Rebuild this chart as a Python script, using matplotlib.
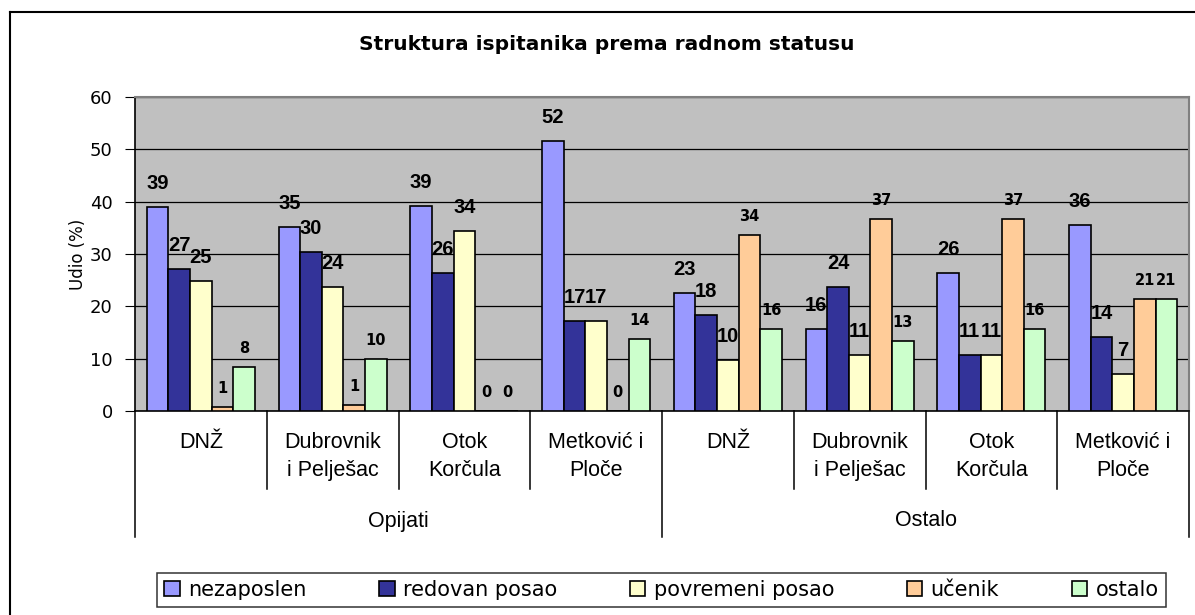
import matplotlib.pyplot as plt
import matplotlib.transforms as mtransforms
from matplotlib.lines import Line2D
import numpy as np

plt.rcParams['font.family'] = ['DejaVu Sans']

categories = ["DNŽ", "Dubrovnik\ni Pelješac", "Otok\nKorčula", "Metković i\nPloče"] * 2
groups = ["Opijati", "Ostalo"]
series = ["nezaposlen", "redovan posao", "povremeni posao", "učenik", "ostalo"]
colors = ["#9999FF", "#333399", "#FFFFCC", "#FFCC99", "#CCFFCC"]

nezaposlen = [38.9, 35.1, 39.2, 51.6, 22.6, 15.7, 26.4, 35.6]
redovan = [27.1, 30.4, 26.3, 17.2, 18.3, 23.7, 10.7, 14.2]
povremeni = [24.8, 23.6, 34.3, 17.2, 9.8, 10.7, 10.7, 7.1]
ucenik = [0.8, 1.1, 0, 0, 33.6, 36.7, 36.7, 21.4]
ostalo = [8.4, 9.9, 0, 13.7, 15.7, 13.4, 15.7, 21.4]
values = [nezaposlen, redovan, povremeni, ucenik, ostalo]


def main():
    W, H = 1195, 615
    fig = plt.figure(figsize=(W / 100, H / 100), dpi=100)
    ax = fig.add_axes([135 / W, 1 - 411 / H, (1189 - 135) / W, (411 - 97) / H])
    ax.set_facecolor("#C0C0C0")

    n = len(categories)
    x = np.arange(n) + 0.5
    w = 0.164

    for j, (name, vals, c) in enumerate(zip(series, values, colors)):
        xs = x + (j - 2) * w
        ax.bar(xs, vals, w, color=c, edgecolor="black", lw=1.2, label=name, zorder=3)
        big = j < 3
        for xi, v in zip(xs, vals):
            if big:
                ax.annotate(f"{v:.0f}", (xi, v), xytext=(0, 17),
                            textcoords="offset points", ha="center", va="center",
                            fontsize=14.5, fontweight="bold", family="Liberation Sans",
                            zorder=4)
            else:
                ax.annotate(f"{v:.0f}", (xi, v), xytext=(0, 13.5),
                            textcoords="offset points", ha="center", va="center",
                            fontsize=10.5, fontweight="bold", zorder=4)

    ax.set_xlim(0, n)
    ax.set_ylim(0, 60)
    ax.set_yticks(range(0, 61, 10))
    ax.tick_params(axis="y", direction="out", length=7, labelsize=13, pad=9)
    ax.set_xticks([])
    ax.grid(axis="y", color="black", lw=0.9, zorder=1)
    ax.set_axisbelow(True)
    for s in ("top", "right"):
        ax.spines[s].set_color("#808080")
        ax.spines[s].set_linewidth(1.5)
    ax.spines["left"].set_linewidth(1.2)
    ax.spines["bottom"].set_linewidth(1.2)
    ax.set_ylabel("Udio (%)", fontsize=12, labelpad=2)

    # two-level category axis
    trans = mtransforms.blended_transform_factory(ax.transData, ax.transAxes)
    px = 1 / 314
    for i, lab in enumerate(categories):
        ax.text(i + 0.5, -21 * px, lab, transform=trans, ha="center", va="top",
                fontsize=15.5, linespacing=1.45, family="Liberation Sans")
    for k, g in enumerate(groups):
        ax.text(4 * k + 2, -110 * px, g, transform=trans, ha="center", va="center",
                fontsize=15.5, family="Liberation Sans")
    for b in range(n + 1):
        low = -126 * px if b % 4 == 0 else -78 * px
        ax.plot([b, b], [0, low], transform=trans, color="black", lw=1.1,
                clip_on=False)

    fig.text(607 / W, 1 - 45 / H, "Struktura ispitanika prema radnom statusu",
             ha="center", va="center", fontsize=14.5, fontweight="bold")

    leg = fig.legend(loc="center", ncol=5, mode="expand",
                     bbox_to_anchor=(157 / W, 1 - 611 / H, (1166 - 157) / W, 42 / H),
                     fontsize=15, frameon=True, fancybox=False, edgecolor="black",
                     handlelength=0.75, handleheight=0.7, handletextpad=0.4,
                     borderaxespad=0, borderpad=0.35)
    leg.get_frame().set_linewidth(1.1)

    # outer chart border
    fig.add_artist(Line2D([10 / W, 10 / W], [0, 1 - 12 / H], color="black", lw=1.5))
    fig.add_artist(Line2D([10 / W, 1], [1 - 12 / H, 1 - 12 / H], color="black", lw=1.5))

    fig.savefig("out.png", dpi=100)


main()
